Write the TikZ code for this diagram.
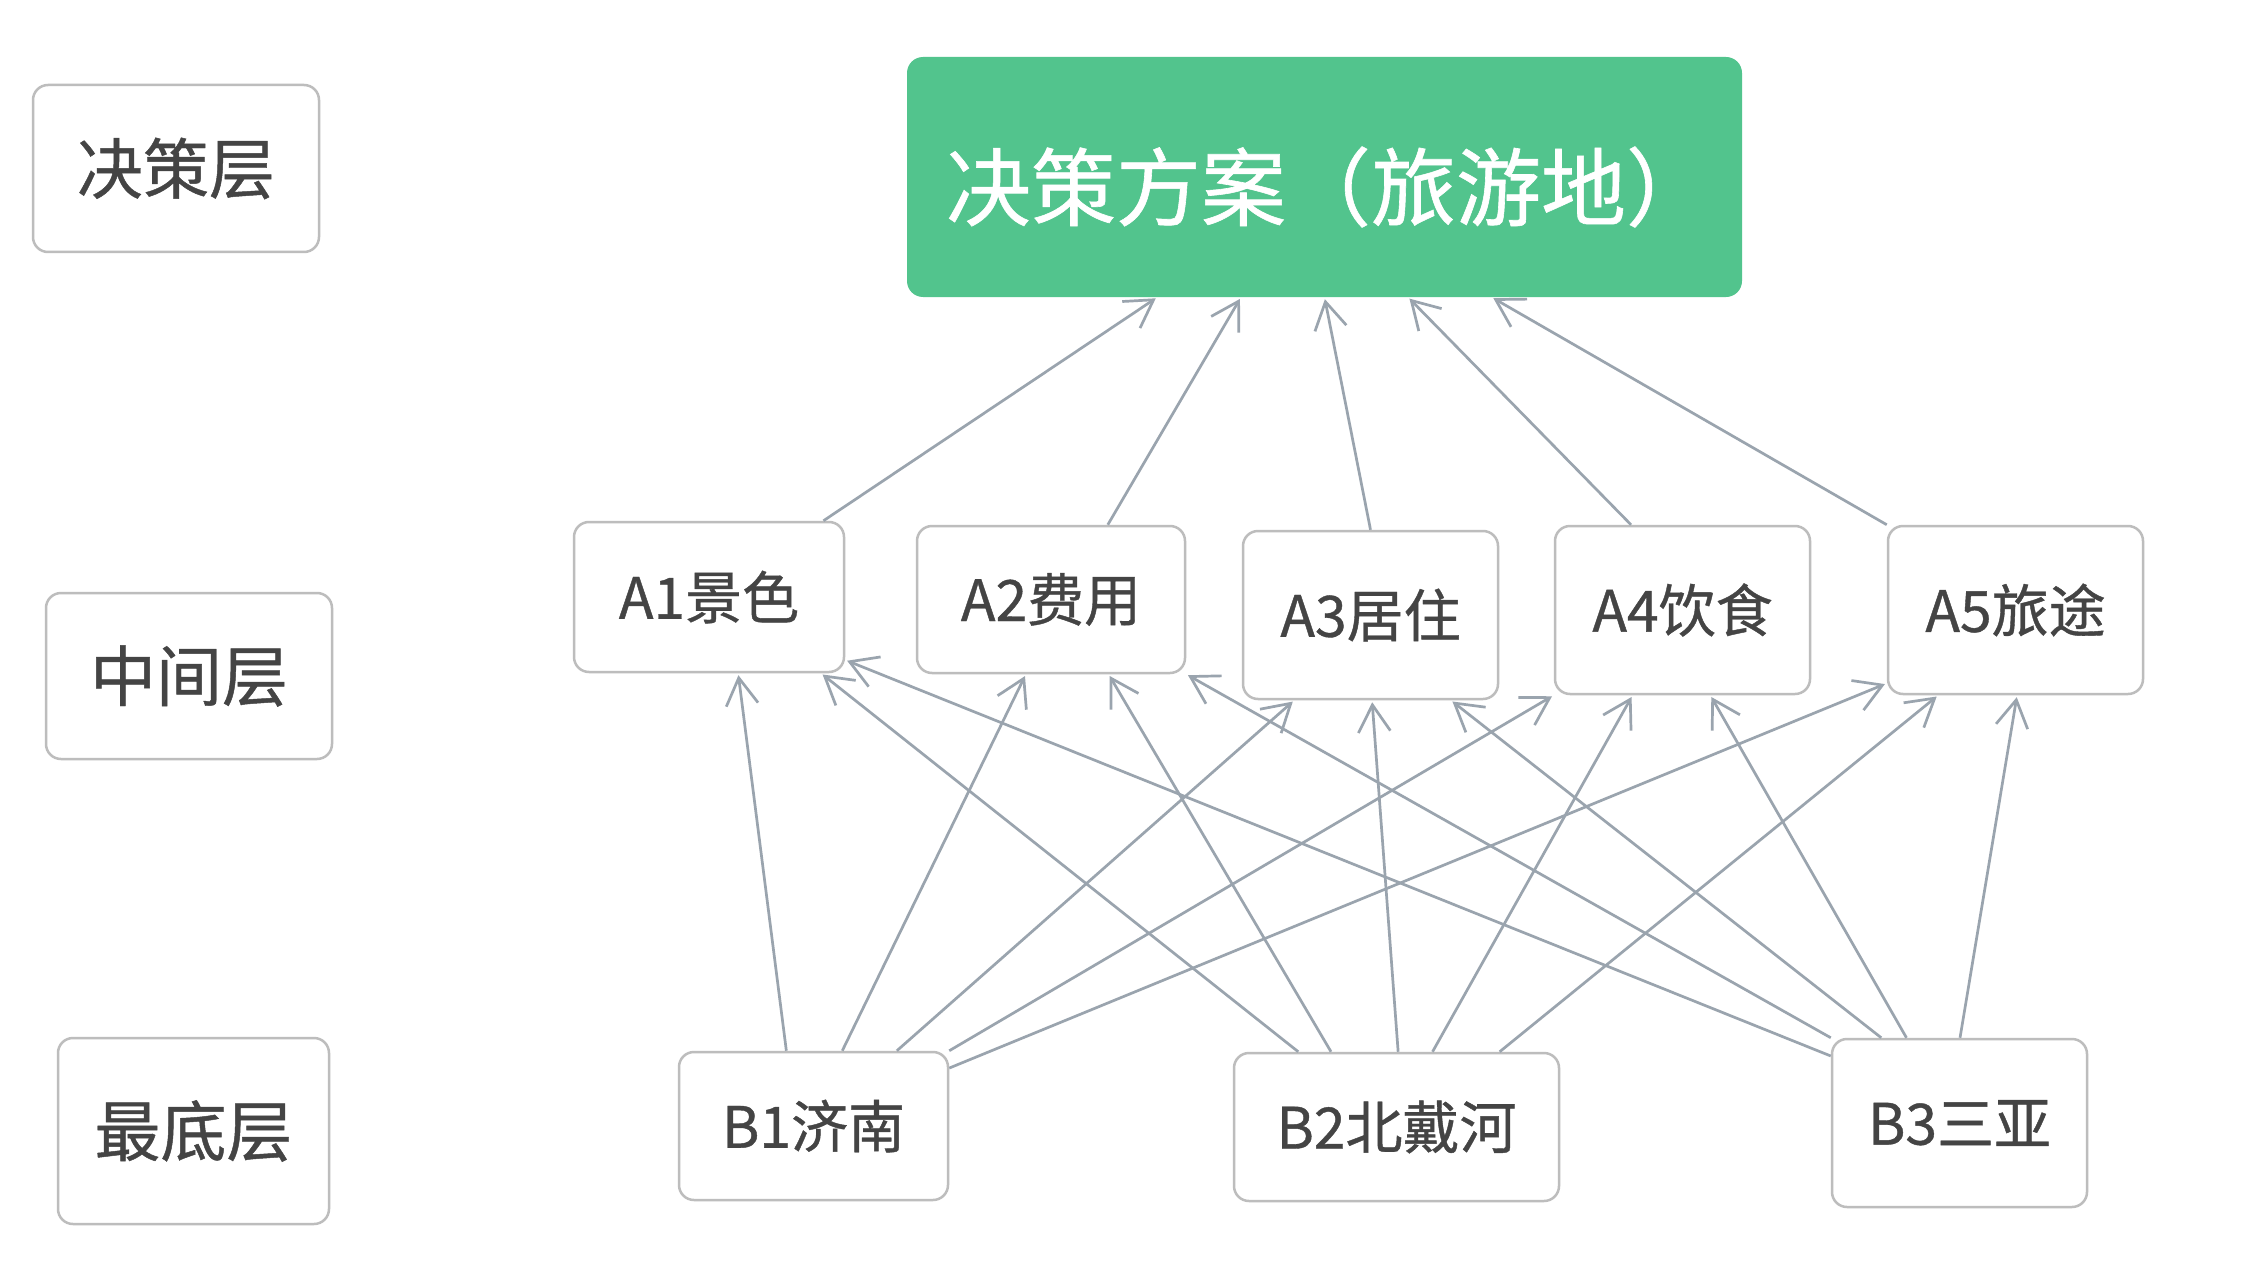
\documentclass[tikz,border=0pt]{standalone}
\usepackage{fontspec}
\setmainfont[AutoFakeBold=0.7]{Noto Sans CJK SC}
\usetikzlibrary{arrows.meta,calc}
\definecolor{boxline}{HTML}{BDBDBD}
\definecolor{txt}{HTML}{444444}
\definecolor{arr}{HTML}{9AA4AE}
\definecolor{grn}{HTML}{52C48D}
\begin{document}
\begin{tikzpicture}[x=1pt,y=-1pt,
  box/.style={draw=boxline,line width=2.5pt,rounded corners=15pt,fill=white,text=txt,inner sep=0pt,align=center},
  lay/.style={box,font=\fontsize{66pt}{70pt}\selectfont\bfseries},
  crit/.style={box,font=\fontsize{57pt}{61pt}\selectfont\bfseries},
  link/.style={draw=arr,line width=2.7pt,-{Straight Barb[length=27pt,width=32pt]},shorten >=2pt}]
\useasboundingbox (0,0) rectangle (2261,1265);
\fill[white] (0,0) rectangle (2261,1265);

% layer labels
\node[lay,minimum width=286pt,minimum height=167pt] (L1) at (176,168.5) {决策层};
\node[lay,minimum width=286pt,minimum height=166pt] (L2) at (189,676) {中间层};
\node[lay,minimum width=271pt,minimum height=186pt] (L3) at (193.5,1131) {最底层};

% goal
\node[fill=grn,rounded corners=16pt,minimum width=835pt,minimum height=240pt,inner sep=0pt] (G) at (1324.5,177) {};
\node[text=white,inner sep=0pt,font=\fontsize{85pt}{89pt}\selectfont\bfseries] (Gt) at ([xshift=4pt,yshift=-10pt]G.center) {决策方案（旅游地）};

% criteria
\node[crit,minimum width=270pt,minimum height=150pt] (A1) at (709,597) {A1景色};
\node[crit,minimum width=268pt,minimum height=147pt] (A2) at (1051,599.5) {A2费用};
\node[crit,minimum width=255pt,minimum height=168pt] (A3) at (1370.5,615) {A3居住};
\node[crit,minimum width=255pt,minimum height=168pt] (A4) at (1682.5,610) {A4饮食};
\node[crit,minimum width=255pt,minimum height=168pt] (A5) at (2015.5,610) {A5旅途};

% alternatives
\node[crit,minimum width=269pt,minimum height=148pt] (B1) at (813.5,1126) {B1济南};
\node[crit,minimum width=325pt,minimum height=148pt] (B2) at (1396.5,1127) {B2北戴河};
\node[crit,minimum width=255pt,minimum height=168pt] (B3) at (1959.5,1123) {B3三亚};

% A -> G
\draw[link] ($(A1.north west)!0.92!(A1.north east)$) -- ($(G.south west)!0.3!(G.south east)$);
\draw[link] ($(A2.north west)!0.71!(A2.north east)$) -- ($(G.south west)!0.4!(G.south east)$);
\draw[link] ($(A3.north west)!0.5!(A3.north east)$) -- ($(G.south west)!0.5!(G.south east)$);
\draw[link] ($(A4.north west)!0.3!(A4.north east)$) -- ($(G.south west)!0.6!(G.south east)$);
\draw[link] (A5.north west) -- ($(G.south west)!0.7!(G.south east)$);

% B1 -> A
\draw[link] ($(B1.north west)!0.4!(B1.north east)$) -- ($(A1.south west)!0.607!(A1.south east)$);
\draw[link] ($(B1.north west)!0.606!(B1.north east)$) -- ($(A2.south west)!0.407!(A2.south east)$);
\draw[link] ($(B1.north west)!0.807!(B1.north east)$) -- ($(A3.south west)!0.204!(A3.south east)$);
\draw[link] (B1.north east) -- (A4.south west);
\draw[link] ($(B1.north east)!0.115!(B1.south east)$) -- ($(A5.north west)!0.93!(A5.south west)$);

% B2 -> A
\draw[link] ($(B2.north west)!0.2!(B2.north east)$) -- ($(A1.south west)!0.911!(A1.south east)$);
\draw[link] ($(B2.north west)!0.3!(B2.north east)$) -- ($(A2.south west)!0.713!(A2.south east)$);
\draw[link] ($(B2.north west)!0.505!(B2.north east)$) -- ($(A3.south west)!0.506!(A3.south east)$);
\draw[link] ($(B2.north west)!0.61!(B2.north east)$) -- ($(A4.south west)!0.306!(A4.south east)$);
\draw[link] ($(B2.north west)!0.815!(B2.north east)$) -- ($(A5.south west)!0.2!(A5.south east)$);

% B3 -> A
\draw[link] ($(B3.north west)!0.107!(B3.south west)$) -- ($(A1.north east)!0.913!(A1.south east)$);
\draw[link] (B3.north west) -- (A2.south east);
\draw[link] ($(B3.north west)!0.196!(B3.north east)$) -- ($(A3.south west)!0.812!(A3.south east)$);
\draw[link] ($(B3.north west)!0.294!(B3.north east)$) -- ($(A4.south west)!0.608!(A4.south east)$);
\draw[link] ($(B3.north west)!0.502!(B3.north east)$) -- ($(A5.south west)!0.506!(A5.south east)$);
\end{tikzpicture}
\end{document}
